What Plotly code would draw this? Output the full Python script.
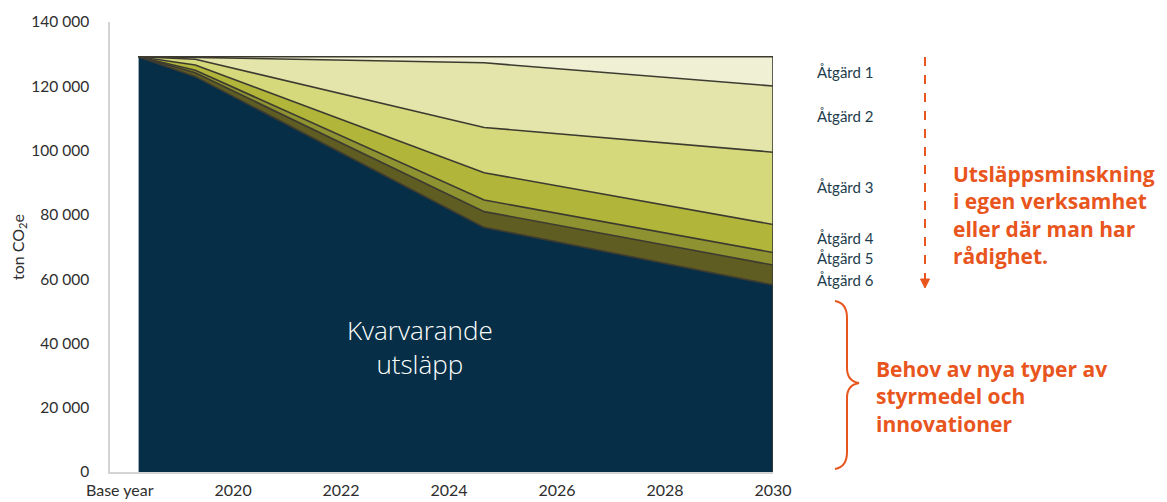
import plotly.graph_objects as go

# ---- data (ton CO2e) ----
years = [2018.25, 2019.3, 2024.65, 2030]
remaining = [129200, 123000, 76100, 58200]   # Kvarvarande utsläpp
atgard6 = [0, 1200, 4900, 6200]
atgard5 = [0, 800, 3600, 3900]
atgard4 = [0, 1600, 8500, 8700]
atgard3 = [0, 1800, 14100, 22500]
atgard2 = [0, 600, 20100, 20600]
atgard1 = [0, 200, 1900, 9100]

x_tick_vals = [2017.9, 2020, 2022, 2024, 2026, 2028, 2030]
x_tick_text = ["Base year", "2020", "2022", "2024", "2026", "2028", "2030"]
y_ticks = [0, 20000, 40000, 60000, 80000, 100000, 120000, 140000]

series = [
    ("Kvarvarande utsläpp", remaining, "#062f47"),
    ("Åtgärd 6", atgard6, "#5f5d22"),
    ("Åtgärd 5", atgard5, "#8f9230"),
    ("Åtgärd 4", atgard4, "#b1b63a"),
    ("Åtgärd 3", atgard3, "#d5d97c"),
    ("Åtgärd 2", atgard2, "#e3e5ab"),
    ("Åtgärd 1", atgard1, "#eff0d4"),
]

ORANGE = "#e8551d"
LINE = "#3d3b30"

fig = go.Figure()
for name, vals, col in series:
    fig.add_trace(go.Scatter(
        x=years, y=vals, name=name, stackgroup="one", mode="lines",
        line=dict(color=LINE, width=1.6), fillcolor=col, hoverinfo="skip",
    ))

total_end = sum(s[1][-1] for s in series)

# page offset from the browser's default body margin
OFF = 8
W, H = 1167 - OFF, 502 - OFF
# plot area in page pixels: x 110..773, y 22..472
L, R, T, B = 110, 773, 22, 472
def px(x):
    return (x - L) / (R - L)
def py(y):
    return (B - y) / (B - T)

shapes = [
    # right edge line of the stacked area
    dict(type="line", xref="x", yref="y", x0=years[-1], x1=years[-1], y0=0, y1=total_end,
         line=dict(color=LINE, width=1.6)),
    # dashed arrow
    dict(type="line", xref="paper", yref="paper", x0=px(925), x1=px(925), y0=py(57), y1=py(280),
         line=dict(color=ORANGE, width=2, dash="dash")),
    dict(type="path", xref="paper", yref="paper",
         path=f"M {px(920.5)} {py(279)} L {px(929.5)} {py(279)} L {px(925)} {py(288)} Z",
         fillcolor=ORANGE, line=dict(color=ORANGE, width=1)),
    # curly brace
    dict(type="path", xref="paper", yref="paper",
         path=(f"M {px(835)} {py(301)} Q {px(847)} {py(303)} {px(847)} {py(318)} "
               f"L {px(847)} {py(368)} Q {px(847)} {py(381)} {px(859)} {py(383)} "
               f"Q {px(847)} {py(385)} {px(847)} {py(398)} "
               f"L {px(847)} {py(452)} Q {px(847)} {py(467)} {px(835)} {py(469)}"),
         line=dict(color=ORANGE, width=2)),
]

annotations = [
    dict(text="Kvarvarande<br>utsläpp", xref="paper", yref="paper", x=px(420), y=py(347),
         showarrow=False, font=dict(family="Open Sans", size=26, color="#ffffff", weight=300),
         xanchor="center", yanchor="middle"),
    dict(text="Utsläppsminskning<br>i egen verksamhet<br>eller där man har<br>rådighet.",
         xref="paper", yref="paper", x=px(951), y=py(215), showarrow=False, align="left",
         font=dict(family="Open Sans", size=21, color=ORANGE, weight="bold"),
         xanchor="left", yanchor="middle"),
    dict(text="Behov av nya typer av<br>styrmedel och<br>innovationer",
         xref="paper", yref="paper", x=px(874), y=py(396), showarrow=False, align="left",
         font=dict(family="Open Sans", size=21, color=ORANGE, weight="bold"),
         xanchor="left", yanchor="middle"),
]
label_y = {"Åtgärd 1": 72, "Åtgärd 2": 116, "Åtgärd 3": 187,
           "Åtgärd 4": 238, "Åtgärd 5": 258, "Åtgärd 6": 280}
for name, yy in label_y.items():
    annotations.append(dict(text=name, xref="paper", yref="paper", x=px(815), y=py(yy),
                            showarrow=False, xanchor="left", yanchor="middle",
                            font=dict(family="Lato", size=15, color="#1d3d4d")))

fig.update_layout(
    width=W, height=H,
    margin=dict(l=L - OFF, r=1167 - R, t=T - OFF, b=502 - B),
    paper_bgcolor="white", plot_bgcolor="white",
    showlegend=False,
    separators=", ",
    shapes=shapes, annotations=annotations,
    font=dict(family="Lato", color="#2e2e2e"),
    xaxis=dict(range=[2017.72, 2030], tickvals=x_tick_vals, ticktext=x_tick_text,
               showgrid=False, zeroline=False, showline=True, linecolor="#d4d4d4", linewidth=1.5,
               tickfont=dict(size=16, color="#2e2e2e"), ticks="", ticklabelstandoff=3,
               automargin=False),
    yaxis=dict(range=[0, 140000], tickvals=y_ticks, tickformat=",d",
               showgrid=False, zeroline=False, showline=True, linecolor="#d4d4d4", linewidth=1.5,
               tickfont=dict(size=15.5, color="#2e2e2e"), ticks="", ticklabelstandoff=16,
               automargin=False,
               title=dict(text="ton CO<sub>2</sub>e", font=dict(size=16, color="#2e2e2e"), standoff=10)),
)

fig.write_html("out.html")
